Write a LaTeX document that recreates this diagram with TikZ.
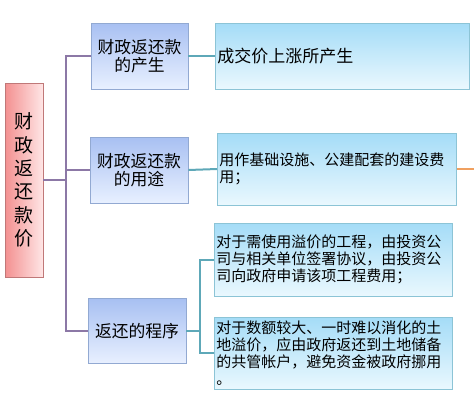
\documentclass[tikz,border=0pt]{standalone}
\usepackage{fontspec}
\setmainfont{Noto Sans CJK SC}
\definecolor{rootL}{HTML}{F39090}
\definecolor{rootR}{HTML}{FFE6E6}
\definecolor{rootB}{HTML}{C07878}
\definecolor{lvAT}{HTML}{A8C0F2}
\definecolor{lvAB}{HTML}{E8F0FF}
\definecolor{lvAD}{HTML}{92A9D2}
\definecolor{lvBT}{HTML}{A4DCF7}
\definecolor{lvBB}{HTML}{EAF8FE}
\definecolor{lvBD}{HTML}{8CC4D6}
\definecolor{purp}{HTML}{8C78A6}
\definecolor{teal}{HTML}{5EA8B8}
\definecolor{orng}{HTML}{F0A060}
\begin{document}
\begin{tikzpicture}[x=1pt,y=-1pt,
  rootbox/.style={draw=rootB, line width=0.8pt, left color=rootL, right color=rootR,
    minimum width=38pt, minimum height=194pt, inner sep=0pt, align=center,
    font=\fontsize{19}{23.4}\selectfont},
  midbox/.style={draw=lvAD, line width=0.8pt, top color=lvAT, bottom color=lvAB,
    minimum width=98pt, minimum height=66pt, inner sep=0pt, align=center,
    font=\fontsize{16.8}{18.5}\selectfont},
  leafbox/.style={draw=lvBD, line width=0.8pt, top color=lvBT, bottom color=lvBB,
    inner sep=0pt, align=left, anchor=west,
    font=\fontsize{15}{17.2}\selectfont},
  pline/.style={draw=purp, line width=2.2pt},
  tline/.style={draw=teal, line width=2pt},
  oline/.style={draw=orng, line width=2pt}]
\useasboundingbox (0,0) rectangle (474,400);
\fill[white] (0,0) rectangle (474,400);

\node[rootbox] (root) at (24,180) {财\\政\\返\\还\\款\\价};

\node[midbox, minimum width=97pt] (n1) at (139.5,56) {财政返还款\\的产生};
\node[midbox] (n2) at (139,170) {财政返还款\\的用途};
\node[midbox, minimum height=65pt] (n3) at (137,331) {返还的程序};

\node[leafbox, minimum width=254pt, minimum height=66pt, text width=252pt, font=\fontsize{17}{19}\selectfont] (a) at (215,56) {\hspace*{1pt}成交价上涨所产生};
\node[leafbox, minimum width=239pt, minimum height=72pt, text width=237pt] (b) at (217,169) {\hspace*{1pt}用作基础设施、公建配套的建设费\\\hspace*{1pt}用；};
\node[leafbox, minimum width=238pt, minimum height=73pt, text width=236pt] (c) at (214,259.5) {\hspace*{1pt}对于需使用溢价的工程，由投资公\\\hspace*{1pt}司与相关单位签署协议，由投资公\\\hspace*{1pt}司向政府申请该项工程费用；};
\node[leafbox, minimum width=238pt, minimum height=72pt, text width=236pt] (d) at (214,353) {\hspace*{1pt}对于数额较大、一时难以消化的土\\\hspace*{1pt}地溢价，应由政府返还到土地储备\\\hspace*{1pt}的共管帐户，避免资金被政府挪用\\\hspace*{1pt}。};

\coordinate (j0) at (66,180);
\coordinate (j1) at (66,56);
\coordinate (j2) at (66,170);
\coordinate (j3) at (66,331);
\coordinate (k1) at (200,259.5);
\coordinate (k3) at (200,353);
\coordinate (oe) at (474,169);

\draw[pline] (root.east |- j0) -- (j0);
\draw[pline] (n1.west) -- (j1) -- (j3) -- (n3.west);
\draw[pline] (n2.west) -- (j2);

\draw[tline] (n1.east) -- (a.west);
\draw[tline] (n2.east) -- (b.west);
\draw[tline] (n3.east) -- (n3.east -| k1);
\draw[tline] (c.west) -- (k1) -- (k3) -- (d.west);
\draw[oline] (b.east) -- (oe);
\end{tikzpicture}
\end{document}
